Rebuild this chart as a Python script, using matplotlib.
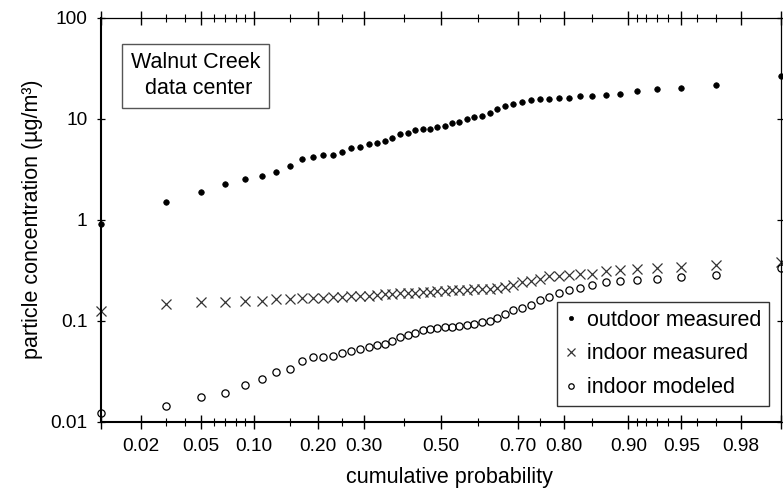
import numpy as np
import matplotlib
matplotlib.use("Agg")
import matplotlib.pyplot as plt
from statistics import NormalDist

plt.rcParams['font.family'] = ['Liberation Sans', 'DejaVu Sans']

# cumulative probability (plotting positions) of the 50 ranked samples
cum_prob = [0.01, 0.03, 0.05, 0.07, 0.09, 0.11, 0.13, 0.15, 0.17, 0.19,
            0.21, 0.23, 0.25, 0.27, 0.29, 0.31, 0.33, 0.35, 0.37, 0.39,
            0.41, 0.43, 0.45, 0.47, 0.49, 0.51, 0.53, 0.55, 0.57, 0.59,
            0.61, 0.63, 0.65, 0.67, 0.69, 0.71, 0.73, 0.75, 0.77, 0.79,
            0.81, 0.83, 0.85, 0.87, 0.89, 0.91, 0.93, 0.95, 0.97, 0.99]

outdoor_measured = [0.90, 1.49, 1.86, 2.25, 2.55, 2.72, 2.99, 3.40, 3.99, 4.22,
                    4.37, 4.39, 4.65, 5.16, 5.28, 5.62, 5.79, 6.02, 6.48, 7.06,
                    7.27, 7.73, 7.96, 7.96, 8.26, 8.51, 9.07, 9.34, 10.0, 10.3,
                    10.6, 11.3, 12.5, 13.3, 14.1, 14.6, 15.2, 15.6, 15.6, 16.1,
                    16.1, 16.7, 16.7, 17.2, 17.7, 18.8, 19.5, 20.1, 21.4, 26.7]

indoor_measured = [0.125, 0.145, 0.152, 0.152, 0.158, 0.158, 0.163, 0.163, 0.166, 0.167,
                   0.168, 0.170, 0.172, 0.174, 0.174, 0.176, 0.178, 0.182, 0.184, 0.186,
                   0.187, 0.189, 0.191, 0.193, 0.195, 0.199, 0.200, 0.201, 0.203, 0.205,
                   0.207, 0.208, 0.213, 0.218, 0.226, 0.239, 0.250, 0.261, 0.274, 0.279,
                   0.283, 0.288, 0.292, 0.307, 0.316, 0.324, 0.333, 0.342, 0.354, 0.381]

indoor_modeled = [0.0123, 0.0144, 0.0174, 0.0191, 0.0231, 0.0263, 0.0308, 0.0330, 0.0399, 0.0434,
                  0.0434, 0.0450, 0.0484, 0.0505, 0.0527, 0.0545, 0.0577, 0.0588, 0.0627, 0.0685,
                  0.0727, 0.0761, 0.0809, 0.0833, 0.0852, 0.0860, 0.0872, 0.0892, 0.0906, 0.0928,
                  0.0964, 0.100, 0.107, 0.117, 0.128, 0.133, 0.142, 0.160, 0.173, 0.187,
                  0.201, 0.209, 0.226, 0.239, 0.246, 0.253, 0.260, 0.269, 0.283, 0.333]

major_probs = [0.01, 0.02, 0.05, 0.10, 0.20, 0.30, 0.50, 0.70, 0.80, 0.90, 0.95, 0.98, 0.99]
major_labels = ['', '0.02', '0.05', '0.10', '0.20', '0.30', '0.50', '0.70', '0.80',
                '0.90', '0.95', '0.98', '']
minor_probs = [0.03, 0.04, 0.06, 0.07, 0.08, 0.09, 0.15, 0.25, 0.40, 0.60, 0.75,
               0.85, 0.91, 0.92, 0.93, 0.94, 0.96, 0.97]
y_ticks = [0.01, 0.1, 1, 10, 100]
y_labels = ['0.01', '0.1', '1', '10', '100']

nd = NormalDist()


def prob_fwd(p):
    p = np.clip(np.asarray(p, dtype=float), 1e-9, 1 - 1e-9)
    return np.vectorize(nd.inv_cdf, otypes=[float])(p)


def prob_inv(z):
    z = np.asarray(z, dtype=float)
    return np.vectorize(nd.cdf, otypes=[float])(z)


fig = plt.figure(figsize=(7.83, 4.98), dpi=100)
ax = fig.add_axes([101 / 783, 1 - 421.7 / 498, 680 / 783, 404 / 498])

ax.set_xscale('function', functions=(prob_fwd, prob_inv))
ax.set_yscale('log')

ax.plot(cum_prob, outdoor_measured, ls='none', marker='o', ms=4.0, mfc='black',
        mec='black', mew=0.5, clip_on=False, label='outdoor measured')
ax.plot(cum_prob, indoor_measured, ls='none', marker='x', ms=7.2, mec='#333333',
        mew=0.9, clip_on=False, label='indoor measured')
ax.plot(cum_prob, indoor_modeled, ls='none', marker='o', ms=5.2, mfc='none',
        mec='black', mew=0.9, clip_on=False, label='indoor modeled')

ax.set_xlim(0.01, 0.99)
ax.set_ylim(0.01, 100)

ax.set_xticks(major_probs)
ax.set_xticklabels(major_labels)
ax.set_xticks(minor_probs, minor=True)
ax.set_yticks(y_ticks)
ax.set_yticklabels(y_labels)
ax.yaxis.set_minor_locator(matplotlib.ticker.NullLocator())

ax.tick_params(axis='x', which='major', direction='inout', length=10, width=1.0,
               top=True, bottom=True, labelsize=13.8, pad=7)
ax.tick_params(axis='x', which='minor', direction='inout', length=5.8, width=0.8,
               top=True, bottom=True)
ax.tick_params(axis='y', which='major', direction='inout', length=5.8, width=0.9,
               left=True, right=True, labelsize=13.8, pad=7)

for side in ['left', 'bottom']:
    ax.spines[side].set_linewidth(1.5)
for side in ['top', 'right']:
    ax.spines[side].set_linewidth(0.9)

ax.set_xlabel('cumulative probability', fontsize=15.5)
ax.set_ylabel('particle concentration (µg/m³)', fontsize=15.5)
ax.xaxis.set_label_coords(0.513, -0.113)
ax.yaxis.set_label_coords(-0.086, 0.5)

ax.text(0.139, 0.856, 'Walnut Creek\n data center', transform=ax.transAxes,
        ha='center', va='center', fontsize=15.5, linespacing=1.3,
        bbox=dict(boxstyle='square,pad=0.4', fc='white', ec='#555555', lw=1.0))

leg = ax.legend(loc='lower right', bbox_to_anchor=(0.982, 0.039), borderaxespad=0,
                fontsize=15.5, frameon=True, fancybox=False, edgecolor='black',
                handlelength=0.6, handletextpad=0.45, labelspacing=0.6,
                borderpad=0.35, markerscale=0.75)
leg.get_frame().set_linewidth(1.0)

fig.savefig('out.png', dpi=100)
